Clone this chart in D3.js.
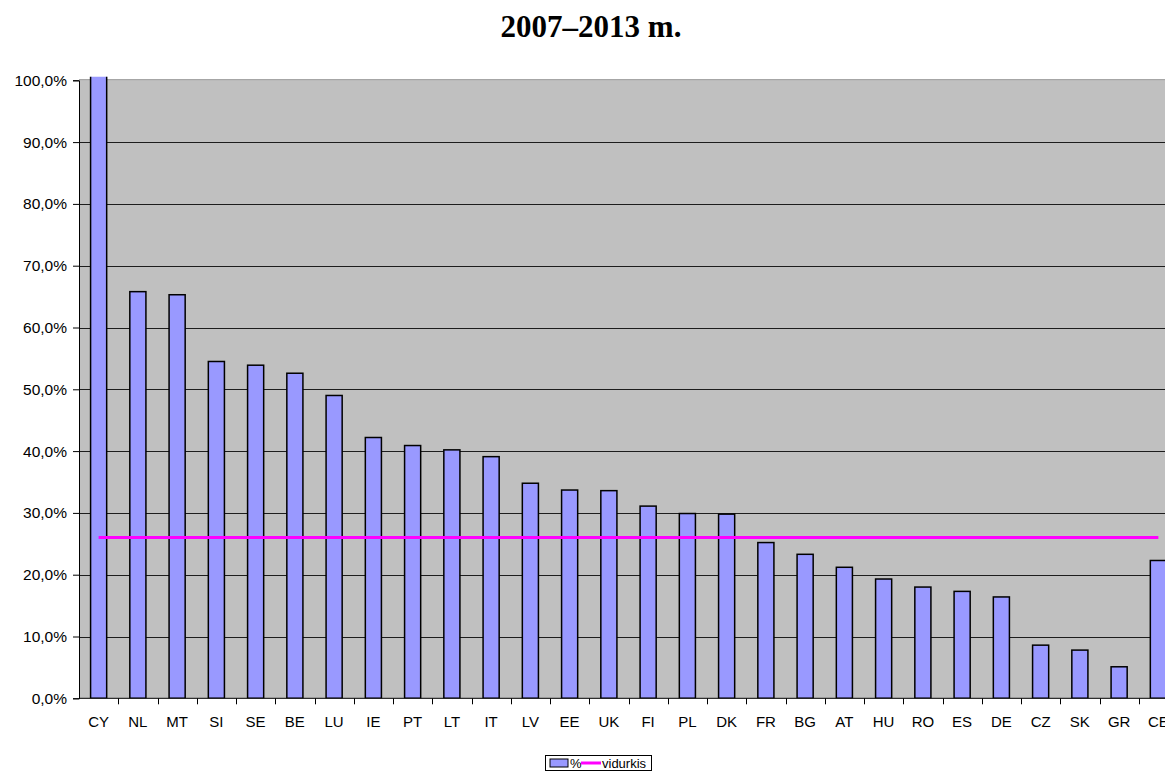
<!DOCTYPE html>
<html>
<head>
<meta charset="utf-8">
<script src="https://cdn.jsdelivr.net/npm/d3@7"></script>
<style>
  body { margin: 0; background: #fff; }
  svg { display: block; }
</style>
</head>
<body>
<svg id="chart" width="1165" height="782"></svg>
<script>
// data
var countries = ["CY","NL","MT","SI","SE","BE","LU","IE","PT","LT","IT","LV","EE","UK","FI","PL","DK","FR","BG","AT","HU","RO","ES","DE","CZ","SK","GR","CE"];
var shares = [120, 65.8, 65.3, 54.5, 53.9, 52.6, 49.0, 42.2, 40.9, 40.2, 39.1, 34.8, 33.7, 33.6, 31.1, 29.9, 29.8, 25.2, 23.3, 21.2, 19.3, 18.0, 17.3, 16.4, 8.6, 7.8, 5.1, 22.3];
var average = 26.0;
var yTicks = [0, 10, 20, 30, 40, 50, 60, 70, 80, 90, 100];

var svg = d3.select("#chart");

// plot area edges (the right edge runs past the window, as in the original)
var plotL = 79, plotR = 79 + 39.25 * countries.length, plotT = 80.3, plotB = 698.3;

var x = d3.scaleBand()
	.domain(countries)
	.range([plotL, plotR])
	.padding(0);

var y = d3.scaleLinear()
	.domain([0, 100])
	.range([plotB, plotT]);

var barW = x.bandwidth() * 0.41;

svg.append("text")
	.attr("x", 591)
	.attr("y", 37)
	.attr("text-anchor", "middle")
	.style("font-family", "'Liberation Serif', 'Times New Roman', serif")
	.style("font-weight", "bold")
	.style("font-size", "31px")
	.text("2007\u20132013 m.");

svg.append("defs").append("clipPath")
	.attr("id", "plotClip")
	.append("rect")
	.attr("x", plotL)
	.attr("y", plotT - 3.5)
	.attr("width", plotR - plotL)
	.attr("height", plotB - plotT + 3.5);

// plot background
svg.append("rect")
	.attr("x", plotL)
	.attr("y", plotT)
	.attr("width", plotR - plotL)
	.attr("height", plotB - plotT)
	.attr("fill", "#c0c0c0");

svg.append("line")
	.attr("x1", plotL).attr("x2", plotR)
	.attr("y1", plotT - 0.5).attr("y2", plotT - 0.5)
	.attr("stroke", "#808080")
	.attr("stroke-width", 1);

// gridlines
svg.append("g")
	.selectAll("line")
	.data(yTicks.filter(function(t) { return t > 0 && t < 100; }))
	.enter()
	.append("line")
	.attr("x1", plotL).attr("x2", plotR)
	.attr("y1", function(d) { return Math.round(y(d)) + 0.5; })
	.attr("y2", function(d) { return Math.round(y(d)) + 0.5; })
	.attr("stroke", "#000")
	.attr("stroke-opacity", 0.85)
	.attr("stroke-width", 1);

// bars
svg.append("g")
	.attr("clip-path", "url(#plotClip)")
	.selectAll("rect")
	.data(countries)
	.enter()
	.append("rect")
	.attr("x", function(d) { return x(d) + (x.bandwidth() - barW) / 2; })
	.attr("y", function(d, i) { return y(shares[i]); })
	.attr("width", barW)
	.attr("height", function(d, i) { return plotB - y(shares[i]); })
	.attr("fill", "#9999ff")
	.attr("stroke", "#000")
	.attr("stroke-width", 1.5);

// average line
svg.append("line")
	.attr("x1", x(countries[0]) + x.bandwidth() / 2)
	.attr("x2", x(countries[countries.length - 1]) + x.bandwidth() / 2)
	.attr("y1", y(average))
	.attr("y2", y(average))
	.attr("stroke", "#ff00ff")
	.attr("stroke-width", 3);

// y axis
var yAxis = d3.axisLeft(y)
	.tickValues(yTicks)
	.tickSize(6)
	.tickPadding(6)
	.tickFormat(function(d) { return d3.format(".1f")(d).replace(".", ",") + "%"; });

var gy = svg.append("g")
	.attr("transform", "translate(" + plotL + ",0)")
	.call(yAxis);

gy.select(".domain").attr("stroke", "#000");
gy.selectAll(".tick line").attr("stroke", "#000");
gy.selectAll("text")
	.attr("fill", "#000")
	.style("font-family", "'Liberation Sans', Arial, sans-serif")
	.style("font-size", "15.5px");

// x axis: ticks sit between the categories
var gx = svg.append("g")
	.attr("transform", "translate(0," + plotB + ")");

gx.append("line")
	.attr("x1", plotL).attr("x2", plotR)
	.attr("stroke", "#000");

gx.selectAll(".xtick")
	.data(countries)
	.enter()
	.append("line")
	.attr("class", "xtick")
	.attr("x1", function(d) { return Math.round(x(d) + x.bandwidth()) + 0.5; })
	.attr("x2", function(d) { return Math.round(x(d) + x.bandwidth()) + 0.5; })
	.attr("y1", 0)
	.attr("y2", 6)
	.attr("stroke", "#000");

gx.selectAll(".xlabel")
	.data(countries)
	.enter()
	.append("text")
	.attr("class", "xlabel")
	.attr("x", function(d) { return x(d) + x.bandwidth() / 2; })
	.attr("y", 29)
	.attr("text-anchor", "middle")
	.style("font-family", "'Liberation Sans', Arial, sans-serif")
	.style("font-size", "15px")
	.text(function(d) { return d; });

// legend
var legend = svg.append("g").attr("transform", "translate(545,755)");

legend.append("rect")
	.attr("x", 0.5).attr("y", 0.5)
	.attr("width", 106).attr("height", 15)
	.attr("fill", "#fff")
	.attr("stroke", "#000");

legend.append("rect")
	.attr("x", 5).attr("y", 4)
	.attr("width", 18).attr("height", 8)
	.attr("fill", "#9999ff")
	.attr("stroke", "#000");

legend.append("text")
	.attr("x", 25).attr("y", 12.5)
	.style("font-family", "'Liberation Sans', Arial, sans-serif")
	.style("font-size", "13px")
	.text("%");

legend.append("line")
	.attr("x1", 36).attr("x2", 56)
	.attr("y1", 8).attr("y2", 8)
	.attr("stroke", "#ff00ff")
	.attr("stroke-width", 3);

legend.append("text")
	.attr("x", 57).attr("y", 12.5)
	.style("font-family", "'Liberation Sans', Arial, sans-serif")
	.style("font-size", "13px")
	.text("vidurkis");
</script>
</body>
</html>
